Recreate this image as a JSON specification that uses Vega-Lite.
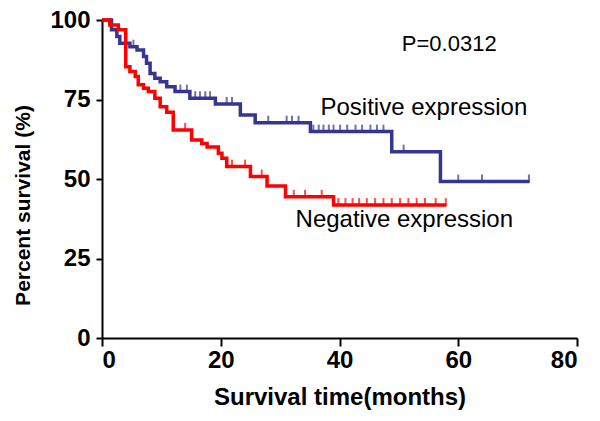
{
  "$schema": "https://vega.github.io/schema/vega-lite/v6.json",
  "autosize": "none",
  "width": 475,
  "height": 318,
  "padding": {"left": 102, "top": 20, "right": 23, "bottom": 83},
  "background": "white",
  "config": {
    "view": {"stroke": null},
    "font": "Liberation Sans",
    "axis": {
      "grid": false,
      "domainColor": "black",
      "domainWidth": 2,
      "tickColor": "black",
      "tickWidth": 2,
      "labelFont": "Liberation Sans",
      "labelFontWeight": "bold",
      "labelFontSize": 24,
      "labelColor": "black",
      "titleFont": "Liberation Sans",
      "titleFontWeight": "bold",
      "titleFontSize": 24,
      "titleColor": "black"
    }
  },
  "datasets": {
    "curves": [
      {"group": "Positive", "time": 0, "survival": 100},
      {"group": "Positive", "time": 1.6, "survival": 96.9},
      {"group": "Positive", "time": 2.5, "survival": 94.8},
      {"group": "Positive", "time": 3.0, "survival": 92.7},
      {"group": "Positive", "time": 4.7, "survival": 91.6},
      {"group": "Positive", "time": 5.9, "survival": 90.6},
      {"group": "Positive", "time": 7.0, "survival": 88.5},
      {"group": "Positive", "time": 7.5, "survival": 86.4},
      {"group": "Positive", "time": 8.1, "survival": 83.2},
      {"group": "Positive", "time": 8.9, "survival": 81.7},
      {"group": "Positive", "time": 9.8, "survival": 80.6},
      {"group": "Positive", "time": 10.9, "survival": 79.0},
      {"group": "Positive", "time": 12.3, "survival": 77.5},
      {"group": "Positive", "time": 14.8, "survival": 75.4},
      {"group": "Positive", "time": 19.1, "survival": 73.6},
      {"group": "Positive", "time": 23.3, "survival": 70.1},
      {"group": "Positive", "time": 25.8, "survival": 67.7},
      {"group": "Positive", "time": 35.1, "survival": 64.9},
      {"group": "Positive", "time": 48.8, "survival": 58.6},
      {"group": "Positive", "time": 57.0, "survival": 49.2},
      {"group": "Positive", "time": 72.0, "survival": 49.2},
      {"group": "Negative", "time": 0, "survival": 100},
      {"group": "Negative", "time": 1.3, "survival": 98.4},
      {"group": "Negative", "time": 2.75, "survival": 96.9},
      {"group": "Negative", "time": 4.0, "survival": 85.3},
      {"group": "Negative", "time": 4.7, "survival": 83.8},
      {"group": "Negative", "time": 5.6, "survival": 82.2},
      {"group": "Negative", "time": 6.1, "survival": 79.6},
      {"group": "Negative", "time": 7.0, "survival": 78.5},
      {"group": "Negative", "time": 7.8, "survival": 77.5},
      {"group": "Negative", "time": 8.9, "survival": 75.4},
      {"group": "Negative", "time": 9.8, "survival": 72.7},
      {"group": "Negative", "time": 10.9, "survival": 71.0},
      {"group": "Negative", "time": 12.0, "survival": 65.4},
      {"group": "Negative", "time": 15.1, "survival": 62.3},
      {"group": "Negative", "time": 16.8, "survival": 61.2},
      {"group": "Negative", "time": 17.7, "survival": 60.1},
      {"group": "Negative", "time": 19.6, "survival": 58.1},
      {"group": "Negative", "time": 20.2, "survival": 56.5},
      {"group": "Negative", "time": 21.0, "survival": 53.9},
      {"group": "Negative", "time": 25.0, "survival": 50.8},
      {"group": "Negative", "time": 27.8, "survival": 47.8},
      {"group": "Negative", "time": 30.9, "survival": 44.4},
      {"group": "Negative", "time": 39.0, "survival": 41.8},
      {"group": "Negative", "time": 58.0, "survival": 41.8}
    ],
    "censored": [
      {"group": "Positive", "time": 5.3, "survival": 91.6},
      {"group": "Positive", "time": 13.2, "survival": 77.5},
      {"group": "Positive", "time": 14.3, "survival": 77.5},
      {"group": "Positive", "time": 15.7, "survival": 75.4},
      {"group": "Positive", "time": 16.5, "survival": 75.4},
      {"group": "Positive", "time": 17.4, "survival": 75.4},
      {"group": "Positive", "time": 18.2, "survival": 75.4},
      {"group": "Positive", "time": 21.0, "survival": 73.6},
      {"group": "Positive", "time": 21.9, "survival": 73.6},
      {"group": "Positive", "time": 28.0, "survival": 67.7},
      {"group": "Positive", "time": 31.1, "survival": 67.7},
      {"group": "Positive", "time": 32.0, "survival": 67.7},
      {"group": "Positive", "time": 33.1, "survival": 67.7},
      {"group": "Positive", "time": 35.6, "survival": 64.9},
      {"group": "Positive", "time": 36.5, "survival": 64.9},
      {"group": "Positive", "time": 37.3, "survival": 64.9},
      {"group": "Positive", "time": 38.2, "survival": 64.9},
      {"group": "Positive", "time": 39.0, "survival": 64.9},
      {"group": "Positive", "time": 40.1, "survival": 64.9},
      {"group": "Positive", "time": 41.3, "survival": 64.9},
      {"group": "Positive", "time": 42.7, "survival": 64.9},
      {"group": "Positive", "time": 43.8, "survival": 64.9},
      {"group": "Positive", "time": 45.2, "survival": 64.9},
      {"group": "Positive", "time": 46.3, "survival": 64.9},
      {"group": "Positive", "time": 47.4, "survival": 64.9},
      {"group": "Positive", "time": 50.8, "survival": 58.6},
      {"group": "Positive", "time": 60.0, "survival": 49.2},
      {"group": "Positive", "time": 64.0, "survival": 49.2},
      {"group": "Positive", "time": 71.9, "survival": 49.2},
      {"group": "Negative", "time": 14.0, "survival": 65.4},
      {"group": "Negative", "time": 21.9, "survival": 53.9},
      {"group": "Negative", "time": 24.1, "survival": 53.9},
      {"group": "Negative", "time": 26.9, "survival": 50.8},
      {"group": "Negative", "time": 32.3, "survival": 44.4},
      {"group": "Negative", "time": 34.2, "survival": 44.4},
      {"group": "Negative", "time": 37.0, "survival": 44.4},
      {"group": "Negative", "time": 39.8, "survival": 41.8},
      {"group": "Negative", "time": 41.0, "survival": 41.8},
      {"group": "Negative", "time": 42.2, "survival": 41.8},
      {"group": "Negative", "time": 43.3, "survival": 41.8},
      {"group": "Negative", "time": 44.6, "survival": 41.8},
      {"group": "Negative", "time": 46.0, "survival": 41.8},
      {"group": "Negative", "time": 47.4, "survival": 41.8},
      {"group": "Negative", "time": 48.8, "survival": 41.8},
      {"group": "Negative", "time": 50.2, "survival": 41.8},
      {"group": "Negative", "time": 51.6, "survival": 41.8},
      {"group": "Negative", "time": 53.0, "survival": 41.8},
      {"group": "Negative", "time": 54.4, "survival": 41.8},
      {"group": "Negative", "time": 56.2, "survival": 41.8},
      {"group": "Negative", "time": 57.9, "survival": 41.8}
    ],
    "notes": [
      {"time": 50.5, "survival": 92.5, "label": "P=0.0312", "size": "p"},
      {"time": 36.8, "survival": 72.3, "label": "Positive expression", "size": "l"},
      {"time": 32.6, "survival": 37.2, "label": "Negative expression", "size": "l"}
    ]
  },
  "layer": [
    {
      "data": {"name": "curves"},
      "transform": [{"filter": "datum.group === 'Positive'"}],
      "mark": {"type": "line", "interpolate": "step-after", "strokeWidth": 3.5, "color": "#35368f"},
      "encoding": {
        "x": {"field": "time", "type": "quantitative", "scale": {"domain": [0, 80], "nice": false},
              "axis": {"values": [0, 20, 40, 60, 80], "title": "Survival time(months)", "tickSize": 8, "labelPadding": 2, "titleBaseline": "middle", "titleY": 59}},
        "y": {"field": "survival", "type": "quantitative", "scale": {"domain": [0, 100], "nice": false},
              "axis": {"values": [0, 25, 50, 75, 100], "title": "Percent survival (%)", "titleFontSize": 21, "tickSize": 6, "labelPadding": 6, "titleBaseline": "middle", "titleAlign": "center", "titleX": -79, "titleY": 185}}
      }
    },
    {
      "data": {"name": "censored"},
      "transform": [{"filter": "datum.group === 'Positive'"}],
      "mark": {"type": "tick", "orient": "vertical", "size": 8, "thickness": 2, "yOffset": -3, "color": "#35368f"},
      "encoding": {
        "x": {"field": "time", "type": "quantitative"},
        "y": {"field": "survival", "type": "quantitative"}
      }
    },
    {
      "data": {"name": "curves"},
      "transform": [{"filter": "datum.group === 'Negative'"}],
      "mark": {"type": "line", "interpolate": "step-after", "strokeWidth": 3.5, "color": "#ff0000"},
      "encoding": {
        "x": {"field": "time", "type": "quantitative"},
        "y": {"field": "survival", "type": "quantitative"}
      }
    },
    {
      "data": {"name": "censored"},
      "transform": [{"filter": "datum.group === 'Negative'"}],
      "mark": {"type": "tick", "orient": "vertical", "size": 8, "thickness": 2, "yOffset": -3, "color": "#ff0000"},
      "encoding": {
        "x": {"field": "time", "type": "quantitative"},
        "y": {"field": "survival", "type": "quantitative"}
      }
    },
    {
      "data": {"name": "notes"},
      "transform": [{"filter": "datum.size === 'p'"}],
      "mark": {"type": "text", "align": "left", "baseline": "middle", "fontSize": 22, "font": "Liberation Sans", "color": "black"},
      "encoding": {
        "x": {"field": "time", "type": "quantitative"},
        "y": {"field": "survival", "type": "quantitative"},
        "text": {"field": "label"}
      }
    },
    {
      "data": {"name": "notes"},
      "transform": [{"filter": "datum.size === 'l'"}],
      "mark": {"type": "text", "align": "left", "baseline": "middle", "fontSize": 24, "font": "Liberation Sans", "color": "black"},
      "encoding": {
        "x": {"field": "time", "type": "quantitative"},
        "y": {"field": "survival", "type": "quantitative"},
        "text": {"field": "label"}
      }
    }
  ]
}
